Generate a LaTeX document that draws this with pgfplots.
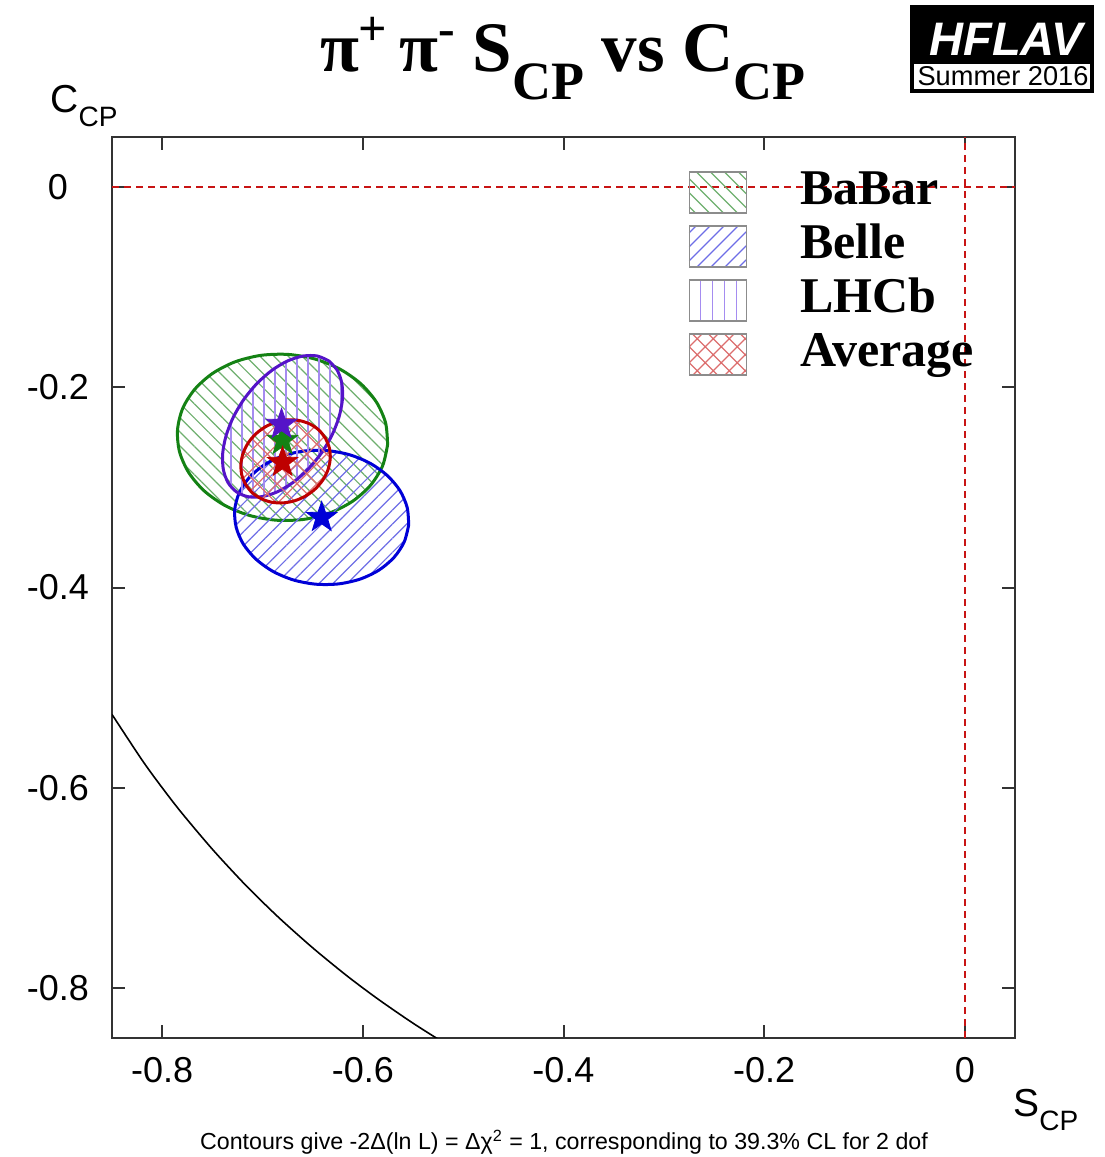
\documentclass[border=0pt]{standalone}
\usepackage{fontspec}
\setmainfont{Liberation Serif}
\setsansfont{Liberation Sans}
\usepackage{pgfplots}
\pgfplotsset{compat=1.18}
\usetikzlibrary{patterns.meta}
\definecolor{bbgreen}{RGB}{20,130,20}
\definecolor{bbgreenl}{RGB}{110,175,110}
\definecolor{blblue}{RGB}{0,0,215}
\definecolor{blbluel}{RGB}{110,110,230}
\definecolor{lhpurp}{RGB}{85,20,200}
\definecolor{lhpurpl}{RGB}{165,140,240}
\definecolor{avred}{RGB}{190,0,0}
\definecolor{avredl}{RGB}{220,110,110}
\definecolor{dred}{RGB}{200,20,20}
\tikzset{
  babarpat/.style={pattern={Lines[angle=-45,distance=5pt,line width=0.6pt]}, pattern color=bbgreenl},
  bellepat/.style={pattern={Lines[angle=45,distance=5pt,line width=0.6pt]}, pattern color=blbluel},
  lhcbpat/.style={pattern={Lines[angle=90,distance=5.5pt,line width=0.6pt]}, pattern color=lhpurpl},
  avgpat/.style={pattern={Hatch[angle=45,distance=7pt,line width=0.6pt]}, pattern color=avredl},
}
\pgfdeclareplotmark{fstar}{%
  \pgfpathmoveto{\pgfpointpolar{90}{\pgfplotmarksize}}%
  \pgfpathlineto{\pgfpointpolar{126}{0.4\pgfplotmarksize}}%
  \pgfpathlineto{\pgfpointpolar{162}{\pgfplotmarksize}}%
  \pgfpathlineto{\pgfpointpolar{198}{0.4\pgfplotmarksize}}%
  \pgfpathlineto{\pgfpointpolar{234}{\pgfplotmarksize}}%
  \pgfpathlineto{\pgfpointpolar{270}{0.4\pgfplotmarksize}}%
  \pgfpathlineto{\pgfpointpolar{306}{\pgfplotmarksize}}%
  \pgfpathlineto{\pgfpointpolar{342}{0.4\pgfplotmarksize}}%
  \pgfpathlineto{\pgfpointpolar{18}{\pgfplotmarksize}}%
  \pgfpathlineto{\pgfpointpolar{54}{0.4\pgfplotmarksize}}%
  \pgfpathclose
  \pgfusepathqfillstroke
}
\begin{document}
\begin{tikzpicture}
\path (0,0) rectangle (552pt,578.5pt);
\begin{axis}[
  at={(56pt,59.5pt)}, anchor=south west,
  scale only axis, width=451.5pt, height=450.5pt,
  xmin=-0.85, xmax=0.05, ymin=-0.85, ymax=0.05,
  xtick={-0.8,-0.6,-0.4,-0.2,0}, xticklabels={-0.8,-0.6,-0.4,-0.2,0},
  ytick={-0.8,-0.6,-0.4,-0.2,0}, yticklabels={-0.8,-0.6,-0.4,-0.2,0},
  tick align=inside, major tick length=6.5pt,
  tick style={line width=1pt, black!80},
  axis line style={line width=1pt, black!80},
  ticklabel style={font=\sffamily\fontsize{18}{20}\selectfont},
  xticklabel style={anchor=center, yshift=-16pt},
  yticklabel style={anchor=center, xshift=-27pt},
  legend style={at={(rel axis cs:0.638,0.963)}, anchor=north west, draw=none, fill=none,
    font=\fontsize{25}{27}\bfseries, row sep=5pt, inner sep=0pt,
    nodes={inner sep=0pt, text height=17pt, text depth=5pt},
    /tikz/every odd column/.append style={column sep=26.5pt}},
  legend cell align=left,
]
% reference lines
\addplot[forget plot, dred, line width=1pt, dash pattern=on 3.5pt off 2.5pt] coordinates {(-0.85,0) (0.05,0)};
\addplot[forget plot, dred, line width=1pt, dash pattern=on 3.5pt off 2.5pt] coordinates {(0,-0.85) (0,0.05)};
% physical boundary S^2+C^2=1
\addplot[forget plot, black, line width=0.8pt, smooth] coordinates {
(-0.85,-0.5268) (-0.82,-0.5724) (-0.80,-0.6) (-0.78,-0.6258) (-0.75,-0.6614) (-0.72,-0.6940)
(-0.70,-0.7141) (-0.68,-0.7332) (-0.65,-0.7599) (-0.62,-0.7846) (-0.60,-0.8) (-0.58,-0.8146)
(-0.55,-0.8352) (-0.52,-0.8542) (-0.50,-0.8660)};
% BaBar
\addplot[forget plot, bbgreen, line width=1.5pt, smooth, babarpat] coordinates {
(-0.5753,-0.2573) (-0.5773,-0.2356) (-0.5864,-0.2149) (-0.6019,-0.1966) (-0.6226,-0.1820) (-0.6473,-0.1719)
(-0.6742,-0.1672) (-0.7015,-0.1681) (-0.7274,-0.1746) (-0.7500,-0.1863) (-0.7678,-0.2023) (-0.7797,-0.2215)
(-0.7847,-0.2427) (-0.7827,-0.2644) (-0.7736,-0.2851) (-0.7582,-0.3034) (-0.7374,-0.3181) (-0.7127,-0.3281)
(-0.6858,-0.3328) (-0.6585,-0.3319) (-0.6326,-0.3254) (-0.6100,-0.3137) (-0.5922,-0.2977) (-0.5803,-0.2785)
(-0.5753,-0.2573)} -- cycle;
% Belle
\addplot[forget plot, blblue, line width=1.5pt, smooth, bellepat] coordinates {
(-0.5543,-0.3376) (-0.5558,-0.3201) (-0.5630,-0.3032) (-0.5756,-0.2882) (-0.5926,-0.2760) (-0.6129,-0.2675)
(-0.6352,-0.2633) (-0.6578,-0.2636) (-0.6793,-0.2684) (-0.6982,-0.2775) (-0.7131,-0.2901) (-0.7232,-0.3054)
(-0.7277,-0.3224) (-0.7262,-0.3400) (-0.7190,-0.3568) (-0.7064,-0.3718) (-0.6894,-0.3840) (-0.6691,-0.3925)
(-0.6468,-0.3967) (-0.6242,-0.3964) (-0.6027,-0.3916) (-0.5839,-0.3826) (-0.5689,-0.3699) (-0.5588,-0.3546)
(-0.5543,-0.3376)} -- cycle;
% LHCb
\addplot[forget plot, lhpurp, line width=1.5pt, smooth, lhcbpat] coordinates {
(-0.6341,-0.1735) (-0.6456,-0.1687) (-0.6595,-0.1688) (-0.6748,-0.1736) (-0.6904,-0.1829) (-0.7053,-0.1960)
(-0.7185,-0.2120) (-0.7291,-0.2299) (-0.7363,-0.2484) (-0.7397,-0.2663) (-0.7390,-0.2823) (-0.7343,-0.2953)
(-0.7259,-0.3045) (-0.7144,-0.3093) (-0.7005,-0.3092) (-0.6852,-0.3044) (-0.6696,-0.2951) (-0.6547,-0.2820)
(-0.6415,-0.2660) (-0.6309,-0.2481) (-0.6237,-0.2296) (-0.6203,-0.2117) (-0.6210,-0.1957) (-0.6257,-0.1827)
(-0.6341,-0.1735)} -- cycle;
% Average
\addplot[forget plot, avred, line width=1.5pt, smooth, avgpat] coordinates {
(-0.6372,-0.2510) (-0.6437,-0.2428) (-0.6525,-0.2368) (-0.6630,-0.2333) (-0.6744,-0.2325) (-0.6860,-0.2346)
(-0.6970,-0.2394) (-0.7066,-0.2465) (-0.7142,-0.2555) (-0.7193,-0.2658) (-0.7215,-0.2766) (-0.7207,-0.2873)
(-0.7168,-0.2970) (-0.7103,-0.3052) (-0.7015,-0.3112) (-0.6910,-0.3148) (-0.6796,-0.3155) (-0.6680,-0.3134)
(-0.6570,-0.3086) (-0.6474,-0.3015) (-0.6398,-0.2925) (-0.6347,-0.2823) (-0.6325,-0.2714) (-0.6333,-0.2607)
(-0.6372,-0.2510)} -- cycle;
% central values
\addplot[forget plot, only marks, mark=fstar, mark size=8pt, bbgreen, mark options={fill=bbgreen, draw=bbgreen}] coordinates {(-0.680,-0.253)};
\addplot[forget plot, only marks, mark=fstar, mark size=8pt, blblue, mark options={fill=blblue, draw=blblue}] coordinates {(-0.641,-0.330)};
\addplot[forget plot, only marks, mark=fstar, mark size=8pt, lhpurp, mark options={fill=lhpurp, draw=lhpurp}] coordinates {(-0.681,-0.237)};
\addplot[forget plot, only marks, mark=fstar, mark size=8pt, avred, mark options={fill=avred, draw=avred}] coordinates {(-0.680,-0.275)};
% legend
\addlegendimage{legend image code/.code={%
  \draw[bbgreenl, line width=0.6pt] (0pt,-7pt) -- (3.25pt,-10.25pt) (0pt,0pt) -- (10.25pt,-10.25pt)
    (0pt,7pt) -- (17.25pt,-10.25pt) (3.75pt,10.25pt) -- (24.25pt,-10.25pt) (10.75pt,10.25pt) -- (28.5pt,-7.5pt)
    (17.75pt,10.25pt) -- (28.5pt,-0.5pt) (24.75pt,10.25pt) -- (28.5pt,6.5pt);
  \draw[black!45, line width=0.8pt] (0pt,-10.25pt) rectangle (28.5pt,10.25pt);}}
\addlegendentry{BaBar}
\addlegendimage{legend image code/.code={%
  \draw[blbluel, line width=0.6pt] (0pt,7pt) -- (3.25pt,10.25pt) (0pt,0pt) -- (10.25pt,10.25pt)
    (0pt,-7pt) -- (17.25pt,10.25pt) (3.75pt,-10.25pt) -- (24.25pt,10.25pt) (10.75pt,-10.25pt) -- (28.5pt,7.5pt)
    (17.75pt,-10.25pt) -- (28.5pt,0.5pt) (24.75pt,-10.25pt) -- (28.5pt,-6.5pt);
  \draw[black!45, line width=0.8pt] (0pt,-10.25pt) rectangle (28.5pt,10.25pt);}}
\addlegendentry{Belle}
\addlegendimage{legend image code/.code={%
  \draw[lhpurpl, line width=0.6pt] (5.5pt,-10.25pt) -- (5.5pt,10.25pt) (11.5pt,-10.25pt) -- (11.5pt,10.25pt)
    (17.5pt,-10.25pt) -- (17.5pt,10.25pt) (23.5pt,-10.25pt) -- (23.5pt,10.25pt);
  \draw[black!45, line width=0.8pt] (0pt,-10.25pt) rectangle (28.5pt,10.25pt);}}
\addlegendentry{LHCb}
\addlegendimage{legend image code/.code={%
  \draw[avredl, line width=0.6pt] (0pt,-4pt) -- (6.25pt,-10.25pt) (0pt,4pt) -- (14.25pt,-10.25pt)
    (1.75pt,10.25pt) -- (22.25pt,-10.25pt) (9.75pt,10.25pt) -- (28.5pt,-8.5pt)
    (17.75pt,10.25pt) -- (28.5pt,-0.5pt) (25.75pt,10.25pt) -- (28.5pt,7.5pt)
    (0pt,4pt) -- (6.25pt,10.25pt) (0pt,-4pt) -- (14.25pt,10.25pt)
    (1.75pt,-10.25pt) -- (22.25pt,10.25pt) (9.75pt,-10.25pt) -- (28.5pt,8.5pt)
    (17.75pt,-10.25pt) -- (28.5pt,0.5pt) (25.75pt,-10.25pt) -- (28.5pt,-7.5pt);
  \draw[black!45, line width=0.8pt] (0pt,-10.25pt) rectangle (28.5pt,10.25pt);}}
\addlegendentry{Average}
\end{axis}
% title
\node[anchor=base, inner sep=0pt] at (281.5pt,542.5pt) {\fontsize{35.5}{38}\bfseries
  π\raisebox{13pt}{\fontsize{25}{25}\selectfont +}\,π\raisebox{13pt}{\fontsize{25}{25}\selectfont -} S\raisebox{-14pt}{\fontsize{27}{27}\selectfont CP} vs C\raisebox{-14pt}{\fontsize{27}{27}\selectfont CP}};
% axis labels
\node[anchor=base west, inner sep=0pt] at (25pt,522pt) {\sffamily\fontsize{19.5}{20}\selectfont C\raisebox{-7pt}{\fontsize{14}{14}\selectfont CP}};
\node[anchor=base west, inner sep=0pt] at (506.5pt,20pt) {\sffamily\fontsize{19.5}{20}\selectfont S\raisebox{-7pt}{\fontsize{14}{14}\selectfont CP}};
% footnote
\node[anchor=base, inner sep=0pt] at (282pt,3.5pt) {\sffamily\fontsize{11.6}{13}\selectfont Contours give -2Δ(ln L) = Δχ\textsuperscript{2} = 1, corresponding to 39.3\% CL for 2 dof};
% logo
\fill[black] (455pt,532pt) rectangle (547pt,576pt);
\fill[white] (457pt,534pt) rectangle (545pt,546.5pt);
\node[anchor=base, inner sep=0pt, text=white] at (503pt,550.5pt) {\sffamily\bfseries\itshape\fontsize{23.5}{24}\selectfont HFLAV};
\node[anchor=base, inner sep=0pt] at (501.5pt,535.5pt) {\sffamily\fontsize{13.6}{14}\selectfont Summer 2016};
\end{tikzpicture}
\end{document}
